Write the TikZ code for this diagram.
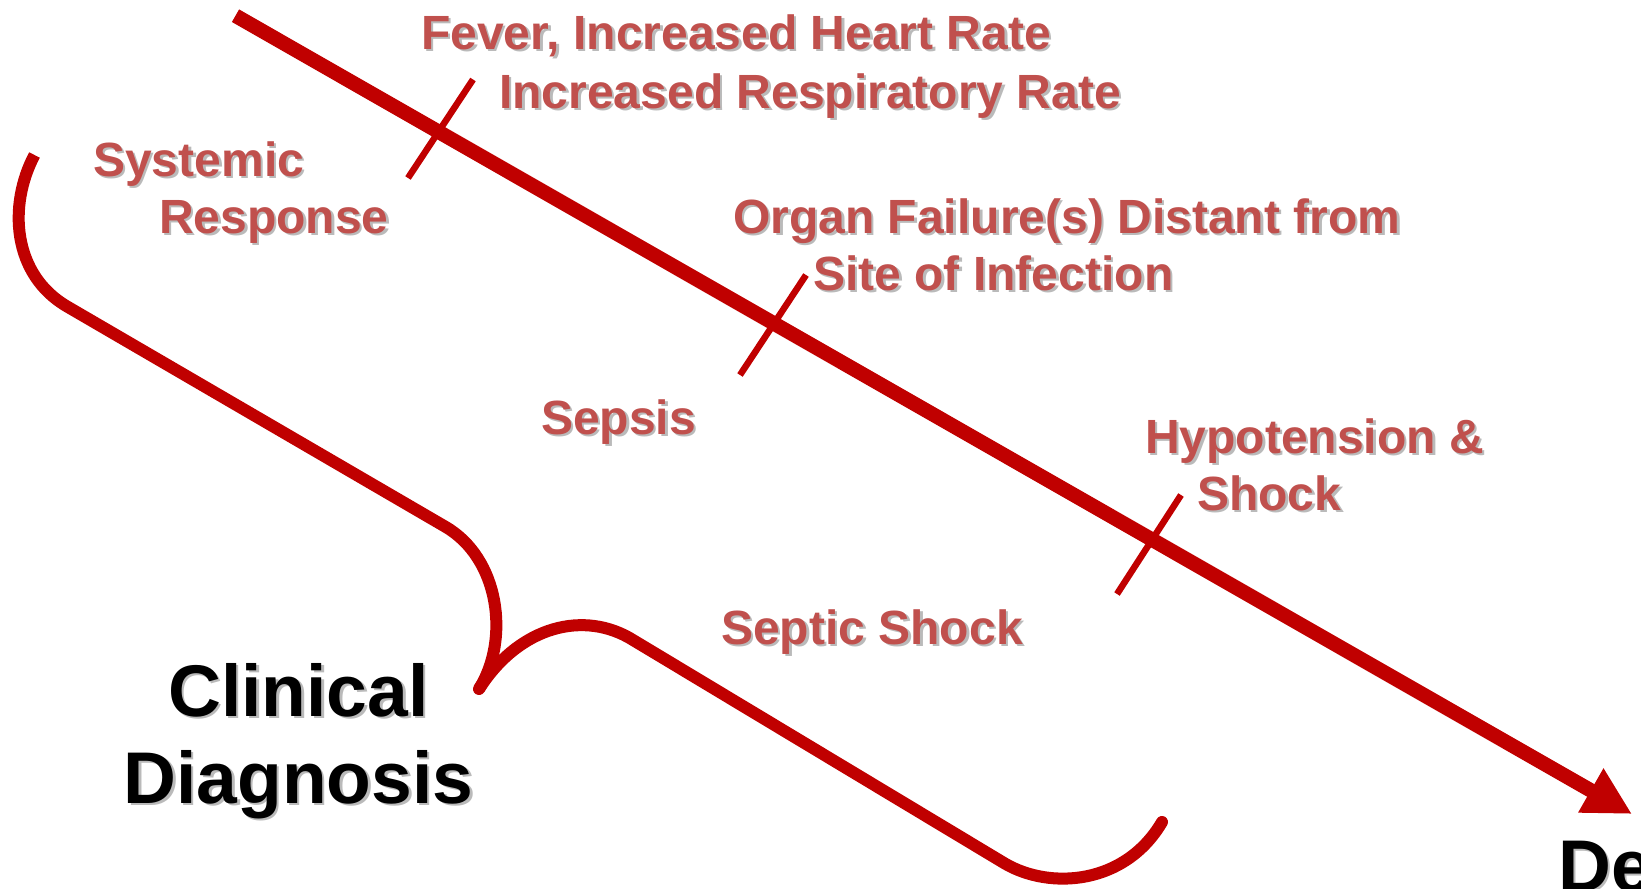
\documentclass[tikz,border=0pt]{standalone}
\usepackage{fontspec}
\setmainfont{Liberation Sans}
\usetikzlibrary{arrows.meta}
\definecolor{txtred}{HTML}{C0504D}
\definecolor{linered}{HTML}{C00000}
\definecolor{shadowgray}{gray}{0.55}
\newcommand\stxt[4]{%
  \node[#2, text=shadowgray, opacity=0.6, xshift=2.5bp, yshift=-2.5bp] at #3 {#4};
  \node[#2] (#1) at #3 {#4};}
\begin{document}
\begin{tikzpicture}[x=1bp,y=-1bp,
  redlabel/.style={font=\fontsize{48.2}{50}\selectfont\bfseries, text=txtred, anchor=base west, inner sep=0pt},
  blacklabel/.style={font=\fontsize{73.5}{80}\selectfont\bfseries, text=black, anchor=base, inner sep=0pt},
  timeline/.style={draw=linered, line width=14.5bp},
  tickmark/.style={draw=linered, line width=6.5bp},
  bracket/.style={draw=linered, line width=12bp, line join=round}]
\useasboundingbox (0,0) rectangle (1641,888);
\clip (0,0) rectangle (1641,888);
% main timeline
\coordinate (tlstart) at (235.5,15.7);
\coordinate (tlend) at (1632,814);
\draw[timeline, -{Triangle[length=47.5bp,width=47.5bp]}] (tlstart) -- (tlend);
% ticks
\coordinate (t1a) at (473,79.5);  \coordinate (t1b) at (408,178);
\coordinate (t2a) at (806,275);   \coordinate (t2b) at (740,375);
\coordinate (t3a) at (1181,495);  \coordinate (t3b) at (1117,594);
\draw[tickmark] (t1a) -- (t1b);
\draw[tickmark] (t2a) -- (t2b);
\draw[tickmark] (t3a) -- (t3b);
% brace
\draw[bracket] (34.5,155) .. controls (8,205) and (12,275) .. (68,307)
  -- (444.8,526.4) .. controls (500,558) and (510,640) .. (479,689);
\draw[bracket, line cap=round] (479,689) .. controls (520,625) and (585,610) .. (633,640)
  -- (1004.7,863.4) .. controls (1050,890) and (1125,885) .. (1162,822);
% red labels
\stxt{fev}{redlabel}{(421,49)}{Fever, Increased Heart Rate}
\stxt{resp}{redlabel}{(499,108)}{Increased Respiratory Rate}
\stxt{sys}{redlabel}{(93,176)}{Systemic}
\stxt{sysr}{redlabel}{(159,233)}{Response}
\stxt{org}{redlabel}{(733,233)}{Organ Failure(s) Distant from}
\stxt{site}{redlabel}{(813,290)}{Site of Infection}
\stxt{sep}{redlabel}{(541,434)}{Sepsis}
\stxt{hyp}{redlabel}{(1145,453)}{Hypotension \&}
\stxt{shk}{redlabel}{(1197,510)}{Shock}
\stxt{sshk}{redlabel}{(721,644)}{Septic Shock}
% black labels
\stxt{clin}{blacklabel}{(298.5,716)}{Clinical}
\stxt{diag}{blacklabel}{(298.5,803)}{Diagnosis}
\stxt{death}{blacklabel, anchor=base west}{(1558,891)}{De}
\end{tikzpicture}
\end{document}
